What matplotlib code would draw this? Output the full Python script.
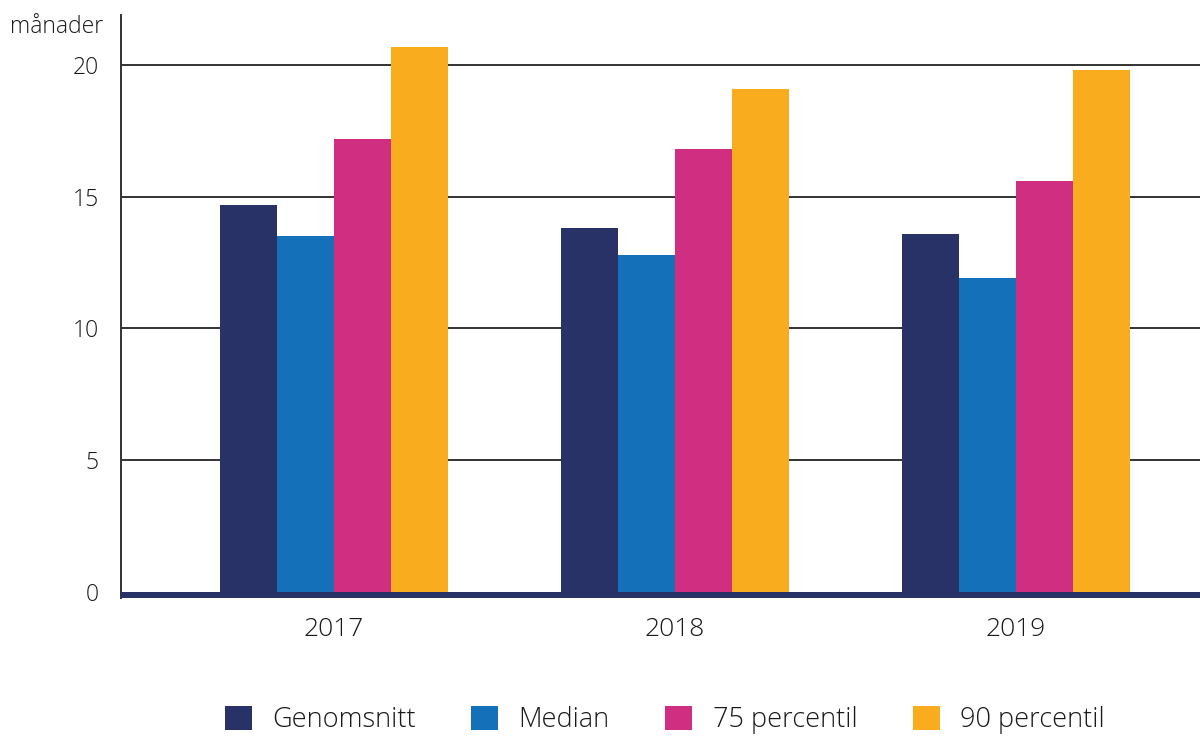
import matplotlib
matplotlib.use("Agg")
import matplotlib.pyplot as plt
from matplotlib.patches import Patch
import numpy as np

plt.rcParams['font.family'] = ['Open Sans', 'DejaVu Sans']
plt.rcParams['font.weight'] = 300

years = ["2017", "2018", "2019"]
series_names = ["Genomsnitt", "Median", "75 percentil", "90 percentil"]
genomsnitt = [14.7, 13.8, 13.6]
median = [13.5, 12.8, 11.9]
p75 = [17.2, 16.8, 15.6]
p90 = [20.7, 19.1, 19.8]
colors = ["#283266", "#1470b8", "#cf2e81", "#f8ac1e"]
yticks = [0, 5, 10, 15, 20]

fig = plt.figure(figsize=(12, 7.36), dpi=100)
ax = fig.add_axes([121/1200, (736-598)/736, 1-121/1200, (598-15)/736])

x = np.arange(len(years))
w = 0.167
data = [genomsnitt, median, p75, p90]
offsets = [-1.5, -0.5, 0.5, 1.5]
for vals, c, off in zip(data, colors, offsets):
    ax.bar(x + off*w, vals, width=w, color=c, zorder=3)

ax.set_xlim(-0.625, 2.54)
ax.set_ylim(-0.23, 21.9)
ax.axhspan(-0.23, 0, color="#283266", zorder=4, lw=0)
ax.set_yticks(yticks)
ax.set_yticklabels([str(t) for t in yticks], fontsize=16.5, color="#1a1a1a")
ax.set_xticks(x)
ax.set_xticklabels(years, fontsize=19, color="#1a1a1a")
ax.tick_params(axis='y', length=0, pad=16)
ax.tick_params(axis='x', length=0, pad=14)
for t in yticks[1:]:
    ax.axhline(t, color="#333333", lw=1.4, zorder=2)
for s in ["top", "right", "bottom"]:
    ax.spines[s].set_visible(False)
ax.spines["left"].set_color("#333333")
ax.spines["left"].set_linewidth(1.4)

fig.text(103/1200, 1-27/736, "månader", ha="right", va="center", fontsize=16.5, color="#1a1a1a")

handles = [Patch(facecolor=c, edgecolor='none') for c in colors]
fig.legend(handles, series_names, loc="center", bbox_to_anchor=(0.554, 0.022),
           ncol=4, frameon=False, fontsize=19.5, handlelength=1.0, handleheight=1.0,
           columnspacing=2.05, handletextpad=0.75, labelcolor="#1a1a1a")

fig.savefig("out.png", dpi=100)
